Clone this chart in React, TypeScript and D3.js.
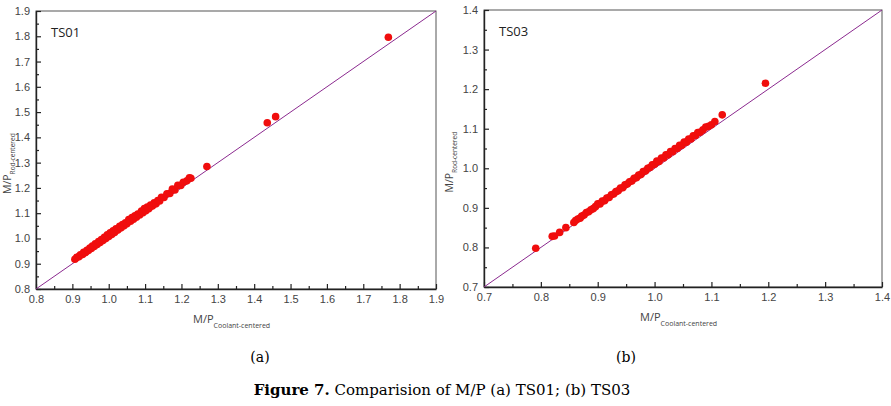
import React, { useEffect, useRef } from 'react';
import * as d3 from 'd3';

// TS01 panel (a)
const ts01X = [0.907,0.912,0.918,0.922,0.928,0.931,0.936,0.94,0.944,0.948,0.952,0.955,0.96,0.963,0.968,0.972,0.976,0.98,0.984,0.988,0.992,0.996,1.0,1.004,1.008,1.012,1.016,1.02,1.025,1.03,1.034,1.038,1.042,1.046,1.05,1.055,1.06,1.064,1.068,1.072,1.076,1.08,1.085,1.09,1.094,1.098,1.102,1.106,1.11,1.115,1.12,1.125,1.13,1.135,1.14,1.145,1.152,1.16,1.168,1.175,1.182,1.19,1.198,1.205,1.215,1.222,1.226,1.27,1.436,1.459,1.769];
const ts01Y = [0.918,0.925,0.928,0.935,0.937,0.945,0.944,0.953,0.952,0.962,0.96,0.97,0.968,0.979,0.976,0.988,0.984,0.996,0.992,1.005,1.0,1.014,1.008,1.022,1.016,1.03,1.024,1.038,1.033,1.048,1.042,1.055,1.05,1.062,1.058,1.075,1.068,1.083,1.076,1.09,1.084,1.097,1.093,1.108,1.102,1.118,1.11,1.124,1.118,1.132,1.128,1.141,1.137,1.15,1.148,1.163,1.162,1.177,1.178,1.195,1.192,1.21,1.21,1.222,1.228,1.24,1.238,1.285,1.458,1.482,1.796];
const ts01Ticks = [0.8,0.9,1.0,1.1,1.2,1.3,1.4,1.5,1.6,1.7,1.8,1.9];

// TS03 panel (b)
const ts03X = [0.791,0.82,0.824,0.833,0.844,0.858,0.861,0.865,0.869,0.872,0.876,0.88,0.884,0.888,0.892,0.896,0.9,0.904,0.908,0.912,0.916,0.92,0.924,0.928,0.932,0.936,0.94,0.944,0.948,0.952,0.956,0.96,0.964,0.968,0.972,0.976,0.98,0.984,0.988,0.992,0.996,1.0,1.004,1.008,1.012,1.016,1.02,1.024,1.028,1.032,1.036,1.04,1.044,1.048,1.052,1.056,1.06,1.064,1.068,1.072,1.076,1.08,1.085,1.09,1.095,1.1,1.106,1.119,1.195];
const ts03Y = [0.798,0.828,0.829,0.838,0.85,0.863,0.868,0.872,0.874,0.879,0.882,0.888,0.89,0.895,0.898,0.903,0.91,0.91,0.917,0.918,0.925,0.926,0.933,0.935,0.941,0.943,0.95,0.951,0.958,0.96,0.966,0.968,0.975,0.976,0.983,0.984,0.992,0.993,1.0,1.002,1.009,1.01,1.018,1.017,1.026,1.026,1.034,1.034,1.042,1.042,1.05,1.05,1.058,1.058,1.066,1.066,1.074,1.074,1.082,1.083,1.09,1.091,1.097,1.104,1.106,1.11,1.118,1.135,1.215];
const ts03Ticks = [0.7,0.8,0.9,1.0,1.1,1.2,1.3,1.4];

const drawPanel = (svg, opts) => {
    const { left, right, top, bottom, ticks, xs, ys, label, yTitleX } = opts;
    const lo = ticks[0];
    const hi = ticks[ticks.length - 1];

    let x = d3.scaleLinear().domain([lo, hi]).range([left, right]);
    let y = d3.scaleLinear().domain([lo, hi]).range([bottom, top]);

    // minor ticks halfway between majors
    const minor = ticks.slice(0, -1).map((t) => t + 0.05);

    // frame
    svg.append('rect')
        .attr('x', left).attr('y', top)
        .attr('width', right - left).attr('height', bottom - top)
        .attr('fill', 'none').attr('stroke', '#555').attr('stroke-width', 1);

    const styleAxis = (g) => {
        g.selectAll('.domain').attr('stroke', '#222').attr('stroke-width', 1.4);
        g.selectAll('.tick line').attr('stroke', '#222').attr('stroke-width', 1.2);
        g.selectAll('text')
            .attr('fill', '#444')
            .style('font-family', '"Liberation Sans", Arial, sans-serif')
            .style('font-size', '11px');
    };

    svg.append('g')
        .attr('transform', `translate(0,${bottom})`)
        .call(d3.axisBottom(x).tickValues(ticks).tickSize(-5).tickSizeOuter(0).tickPadding(6).tickFormat(d3.format('.1f')))
        .call(styleAxis);
    svg.append('g')
        .attr('transform', `translate(0,${bottom})`)
        .call(d3.axisBottom(x).tickValues(minor).tickSize(-3).tickSizeOuter(0).tickFormat(() => ''))
        .call((g) => g.select('.domain').remove())
        .call(styleAxis);

    svg.append('g')
        .attr('transform', `translate(${left},0)`)
        .call(d3.axisLeft(y).tickValues(ticks).tickSize(-5).tickSizeOuter(0).tickPadding(6).tickFormat(d3.format('.1f')))
        .call(styleAxis);
    svg.append('g')
        .attr('transform', `translate(${left},0)`)
        .call(d3.axisLeft(y).tickValues(minor).tickSize(-3).tickSizeOuter(0).tickFormat(() => ''))
        .call((g) => g.select('.domain').remove())
        .call(styleAxis);

    // 1:1 line
    svg.append('line')
        .attr('x1', x(lo)).attr('y1', y(lo))
        .attr('x2', x(hi)).attr('y2', y(hi))
        .attr('stroke', '#8b2a8f').attr('stroke-width', 1);

    // points
    svg.append('g')
        .selectAll('circle')
        .data(xs.map((v, i) => ({ x: v, y: ys[i] })))
        .enter().append('circle')
        .attr('cx', (d) => x(d.x))
        .attr('cy', (d) => y(d.y))
        .attr('r', 3.8)
        .attr('fill', '#f00d0d');

    // panel label
    svg.append('text')
        .attr('x', left + 15).attr('y', top + 26)
        .style('font-family', '"Open Sans", sans-serif')
        .style('font-size', '13px')
        .attr('fill', '#222')
        .text(label);

    // x title
    const xt = svg.append('text')
        .attr('x', (left + right) / 2 - 43).attr('y', bottom + 34)
        .style('font-family', '"Open Sans", sans-serif')
        .style('font-size', '11px')
        .attr('fill', '#444');
    xt.append('tspan').text('M/P');
    xt.append('tspan').attr('dy', 5).style('font-size', '7px').text('Coolant-centered');

    // y title
    const yt = svg.append('text')
        .attr('transform', `translate(${yTitleX},${(top + bottom) / 2 + 44}) rotate(-90)`)
        .style('font-family', '"Open Sans", sans-serif')
        .style('font-size', '10.5px')
        .attr('fill', '#444');
    yt.append('tspan').text('M/P');
    yt.append('tspan').attr('dy', 4).style('font-size', '6.5px').text('Rod-centered');
};

const App = () => {
    const ref = useRef(null);

    useEffect(() => {
        const svg = d3.select(ref.current);
        svg.selectAll('*').remove();

        drawPanel(svg, { left: 36, right: 436, top: 11, bottom: 289, ticks: ts01Ticks, xs: ts01X, ys: ts01Y, label: 'TS01', yTitleX: 11 });
        drawPanel(svg, { left: 484, right: 882, top: 10, bottom: 287, ticks: ts03Ticks, xs: ts03X, ys: ts03Y, label: 'TS03', yTitleX: 453 });

        // captions
        const serif = '"DejaVu Serif", "Liberation Serif", serif';
        svg.append('text').attr('x', 260).attr('y', 362).attr('text-anchor', 'middle')
            .style('font-family', serif).style('font-size', '14px').text('(a)');
        svg.append('text').attr('x', 626).attr('y', 362).attr('text-anchor', 'middle')
            .style('font-family', serif).style('font-size', '14px').text('(b)');
        const cap = svg.append('text').attr('x', 442).attr('y', 395).attr('text-anchor', 'middle')
            .style('font-family', serif).style('font-size', '15px');
        cap.append('tspan').style('font-weight', 'bold').text('Figure 7.');
        cap.append('tspan').text(' Comparision of M/P (a) TS01; (b) TS03');
    }, []);

    return (
        <svg ref={ref} width={891} height={406}
            style={{ position: 'absolute', left: 0, top: 0, background: '#fff' }} />
    );
};

export default App;
